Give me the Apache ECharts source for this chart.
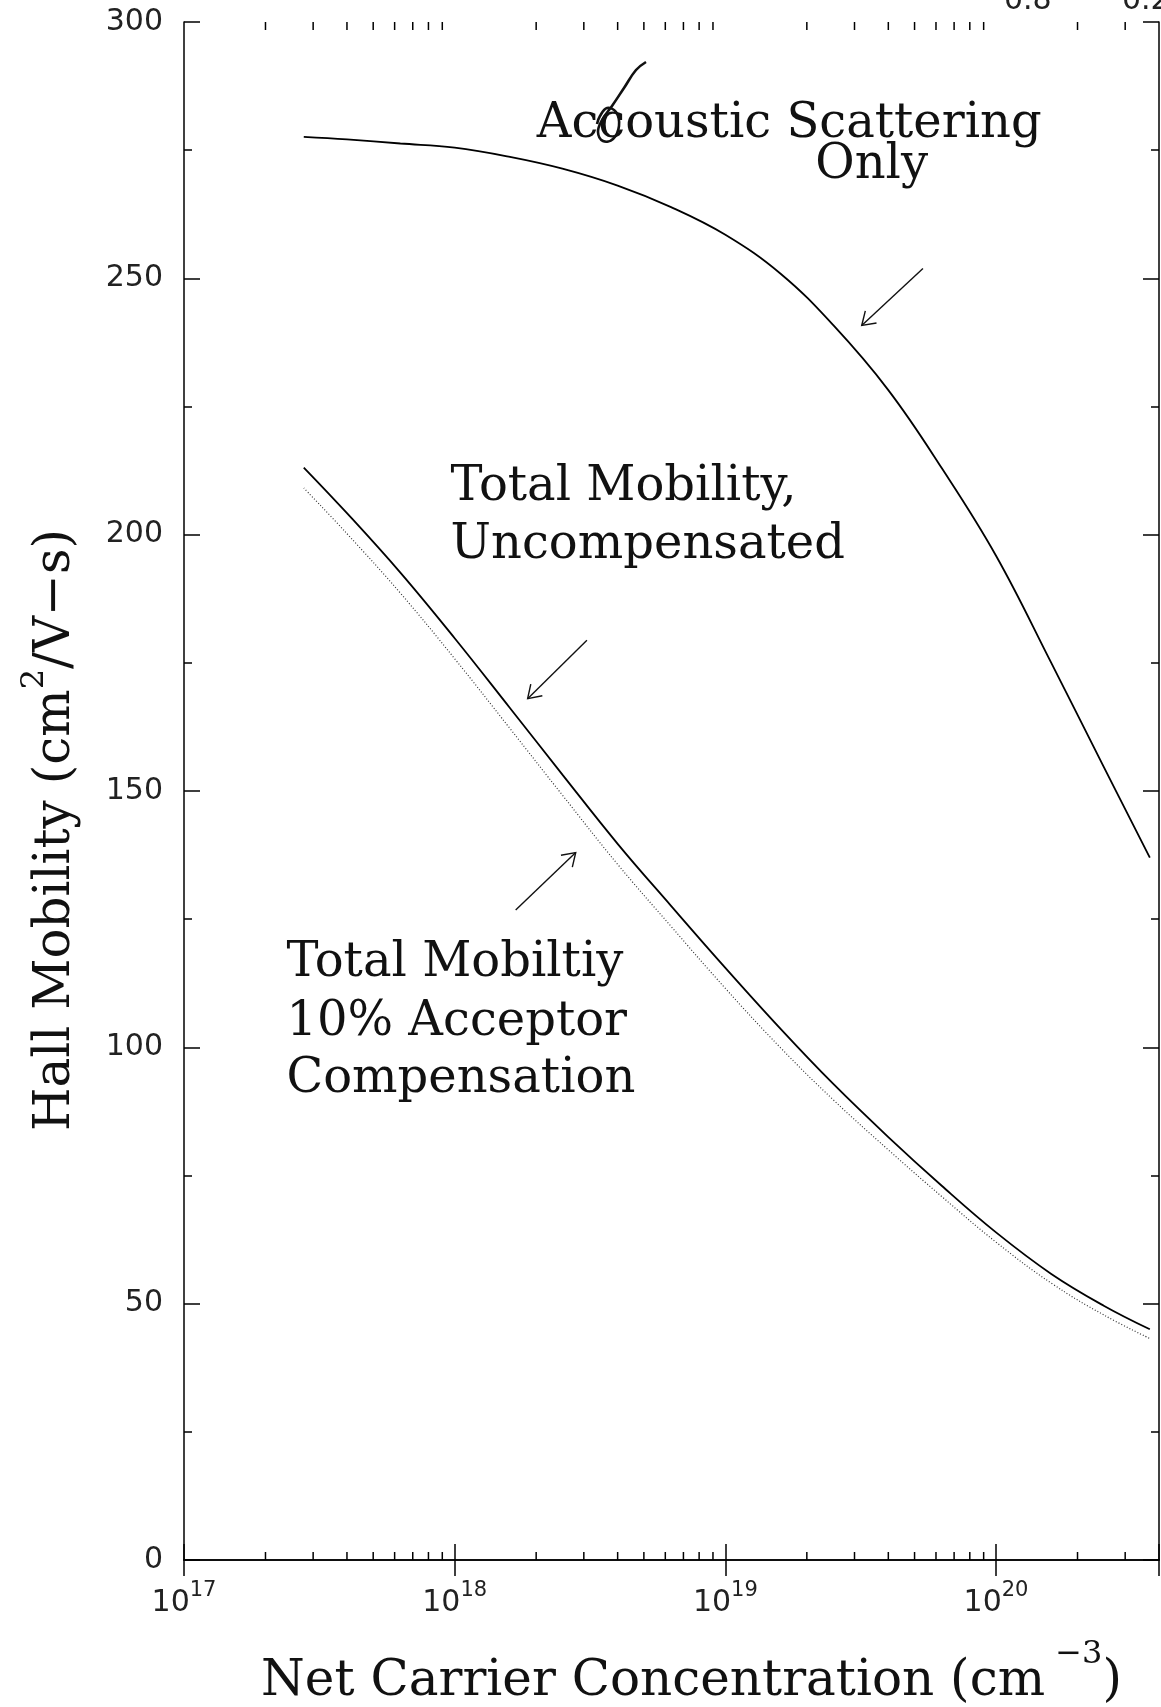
<!DOCTYPE html>
<html>
<head>
<meta charset="utf-8">
<title>Hall Mobility vs Net Carrier Concentration</title>
<script src="https://cdn.jsdelivr.net/npm/echarts@6/dist/echarts.min.js"></script>
<style>
  html, body { margin: 0; padding: 0; background: #fff; }
  #chart { width: 1161px; height: 1707px; }
</style>
</head>
<body>
<div id="chart"></div>
<script>
// net carrier concentration (cm^-3) and Hall mobility (cm^2/V-s)
const concentration = [2.77e17, 4e17, 6.3e17, 1e18, 1.6e18, 2.5e18, 4e18, 6.3e18, 1e19,
  1.6e19, 2.5e19, 4e19, 6.3e19, 1e20, 1.6e20, 2.5e20, 3.7e20];
const acousticOnly = [277.6, 277.1, 276.3, 275.5, 273.7, 271.4, 268.1, 263.9, 258.5,
  250.9, 240.9, 228.2, 213.0, 195.9, 175.0, 154.7, 137.0];
const totalUncompensated = [213.1, 204.2, 192.6, 179.8, 166.2, 153.2, 139.7, 127.6, 115.5,
  103.6, 92.9, 82.5, 73.0, 63.9, 55.8, 49.6, 45.0];
const totalCompensated = [209.1, 200.2, 188.6, 175.8, 162.2, 149.2, 135.7, 123.6, 111.5,
  99.9, 89.8, 80.0, 70.9, 62.0, 54.0, 47.8, 43.2];

// axis ticks
const decades = [17, 18, 19, 20];
const minorMultipliers = [2, 3, 4, 5, 6, 7, 8, 9];
const xMin = 1e17;
const xMax = 4e20;
const yMin = 0;
const yMax = 300;
const yInterval = 50;

const serif = '"DejaVu Serif", "Liberation Serif", serif';
const sans = '"DejaVu Sans", sans-serif';

const minorTicks = [];
decades.forEach(d => {
  minorMultipliers.forEach(m => {
    const v = m * Math.pow(10, d);
    if (v < xMax) minorTicks.push(v);
  });
});

const zip = ys => concentration.map((x, i) => [x, ys[i]]);

const isDecade = v => {
  const e = Math.log10(v);
  return Math.abs(e - Math.round(e)) < 1e-6;
};

const tickStyle = { color: '#000', width: 1.5 };

const yAxisBase = {
  type: 'value',
  min: yMin,
  max: yMax,
  interval: yInterval,
  axisLine: { show: true, lineStyle: tickStyle },
  axisTick: { show: true, inside: true, length: 16, lineStyle: tickStyle },
  minorTick: { show: true, splitNumber: 2, length: 8, lineStyle: tickStyle },
  splitLine: { show: false },
  minorSplitLine: { show: false }
};

const xAxisBase = {
  type: 'log',
  logBase: 10,
  min: xMin,
  max: xMax,
  axisLine: { show: true, lineStyle: tickStyle },
  axisTick: { show: true, inside: true, length: 16, lineStyle: tickStyle },
  splitLine: { show: false }
};

const option = {
  animation: false,
  backgroundColor: '#fff',
  grid: {
    left: 184,
    right: 2,
    top: 22,
    bottom: 147,
    containLabel: false,
    outerBoundsMode: 'none'
  },
  xAxis: [
    Object.assign({}, xAxisBase, {
      position: 'bottom',
      name: '{b|Net Carrier Concentration (cm}{s| −3}{b|)}',
      nameLocation: 'middle',
      nameGap: 79,
      nameTextStyle: {
        padding: [0, 0, 0, 40],
        rich: {
          b: { fontFamily: serif, fontSize: 50, color: '#111', lineHeight: 68, verticalAlign: 'bottom' },
          s: { fontFamily: serif, fontSize: 32, color: '#111', lineHeight: 32, verticalAlign: 'top' }
        }
      },
      axisLabel: {
        margin: 20,
        formatter: v => isDecade(v) ? '{b|10}{s|' + Math.round(Math.log10(v)) + '}' : '',
        rich: {
          b: { fontFamily: sans, fontSize: 30, color: '#222', lineHeight: 38, verticalAlign: 'bottom' },
          s: { fontFamily: sans, fontSize: 21, color: '#222', lineHeight: 21, verticalAlign: 'top' }
        }
      }
    }),
    Object.assign({}, xAxisBase, {
      position: 'top',
      axisLabel: { show: false }
    })
  ],
  yAxis: [
    Object.assign({}, yAxisBase, {
      position: 'left',
      name: '{b|Hall Mobility (cm}{s|2}{b|/V−s)}',
      nameLocation: 'middle',
      nameGap: 103,
      nameTextStyle: {
        padding: [0, 78, 0, 0],
        rich: {
          b: { fontFamily: serif, fontSize: 50, color: '#111', lineHeight: 62, verticalAlign: 'bottom' },
          s: { fontFamily: serif, fontSize: 32, color: '#111', lineHeight: 32, verticalAlign: 'top' }
        }
      },
      axisLabel: { margin: 21, fontFamily: sans, fontSize: 30, color: '#222' }
    }),
    Object.assign({}, yAxisBase, {
      position: 'right',
      axisLabel: { show: false }
    })
  ],
  series: [
    {
      name: 'Accoustic Scattering Only',
      type: 'line',
      smooth: 0.4,
      showSymbol: false,
      lineStyle: { color: '#000', width: 1.8 },
      data: zip(acousticOnly)
    },
    {
      name: 'Total Mobility, Uncompensated',
      type: 'line',
      smooth: 0.4,
      showSymbol: false,
      lineStyle: { color: '#000', width: 1.8 },
      data: zip(totalUncompensated)
    },
    {
      name: 'Total Mobility 10% Acceptor Compensation',
      type: 'line',
      smooth: 0.4,
      showSymbol: false,
      lineStyle: { color: '#333', width: 1.2, type: [1, 2] },
      data: zip(totalCompensated)
    },
    {
      // log minor ticks (2..9 of each decade) on bottom and top frame
      type: 'custom',
      silent: true,
      clip: false,
      encode: { x: 0, y: 1 },
      data: minorTicks.map(v => [v, yMin]),
      renderItem: (params, api) => {
        const v = api.value(0);
        const b = api.coord([v, yMin]);
        const t = api.coord([v, yMax]);
        return {
          type: 'group',
          children: [
            { type: 'line', shape: { x1: b[0], y1: b[1], x2: b[0], y2: b[1] - 8 }, style: { stroke: '#000', lineWidth: 1.5 } },
            { type: 'line', shape: { x1: t[0], y1: t[1], x2: t[0], y2: t[1] + 8 }, style: { stroke: '#000', lineWidth: 1.5 } }
          ]
        };
      }
    }
  ]
};

const chart = echarts.init(document.getElementById('chart'));
chart.setOption(option);

// annotations, placed in data coordinates
const notes = [
  { text: 'Accoustic Scattering', at: [2.01e18, 280.0] },
  { text: 'Only', at: [2.15e19, 272.1] },
  { text: 'Total Mobility,', at: [9.66e17, 209.1] },
  { text: 'Uncompensated', at: [9.66e17, 197.9] },
  { text: 'Total Mobiltiy', at: [2.39e17, 116.4] },
  { text: '10% Acceptor', at: [2.39e17, 104.9] },
  { text: 'Compensation', at: [2.39e17, 93.8] }
];
const arrows = [
  { from: [5.37e19, 251.9], to: [3.19e19, 240.8] },
  { from: [3.08e18, 179.4], to: [1.86e18, 168.0] },
  { from: [1.68e18, 126.8], to: [2.80e18, 138.0] }
];

const toPx = p => chart.convertToPixel({ xAxisIndex: 0, yAxisIndex: 0 }, p);
const headLen = 15;

const graphics = [];
notes.forEach(n => {
  const p = toPx(n.at);
  graphics.push({
    type: 'text',
    x: p[0],
    y: p[1],
    silent: true,
    style: {
      text: n.text,
      fontFamily: serif,
      fontSize: 48,
      fill: '#111',
      align: 'left',
      verticalAlign: 'middle'
    }
  });
});
arrows.forEach(a => {
  const p0 = toPx(a.from);
  const p1 = toPx(a.to);
  const ang = Math.atan2(p0[1] - p1[1], p0[0] - p1[0]);
  const wing = d => [p1[0] + headLen * Math.cos(ang + d), p1[1] + headLen * Math.sin(ang + d)];
  graphics.push({
    type: 'group',
    silent: true,
    children: [
      { type: 'line', shape: { x1: p0[0], y1: p0[1], x2: p1[0], y2: p1[1] }, style: { stroke: '#111', lineWidth: 1.4 } },
      { type: 'polyline', shape: { points: [wing(0.58), p1, wing(-0.58)] }, style: { stroke: '#111', lineWidth: 1.4, fill: null } }
    ]
  });
});

// pen mark over "Accoustic" and cut-off labels of the plot above
graphics.push({
  type: 'polyline',
  silent: true,
  shape: {
    smooth: 0.4,
    points: [[646, 62], [636, 70], [624, 88], [612, 106], [602, 120], [598, 132], [603, 141],
      [613, 139], [619, 126], [616, 112], [607, 108], [600, 116], [597, 124]]
  },
  style: { stroke: '#111', lineWidth: 2.6, fill: null }
});
graphics.push({
  type: 'text', x: 1004, y: 16, silent: true,
  style: { text: '0.8', fontFamily: sans, fontSize: 30, fill: '#222', verticalAlign: 'bottom' }
});
graphics.push({
  type: 'text', x: 1122, y: 16, silent: true,
  style: { text: '0.2', fontFamily: sans, fontSize: 30, fill: '#222', verticalAlign: 'bottom' }
});

chart.setOption({ graphic: graphics });

window.onresize = () => {
  chart.resize();
};
</script>
</body>
</html>
